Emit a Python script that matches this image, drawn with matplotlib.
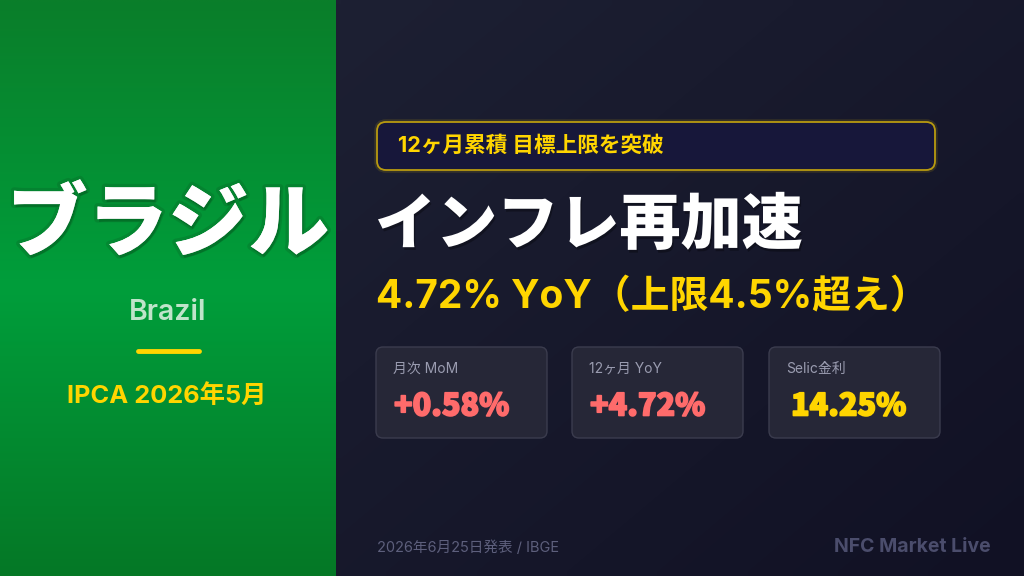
import numpy as np
import matplotlib.pyplot as plt
from matplotlib.patches import FancyBboxPatch
import matplotlib.patheffects as pe

plt.rcParams['font.family'] = ['Noto Sans CJK JP', 'DejaVu Sans']
MIX = ['Inter', 'Noto Sans CJK JP', 'DejaVu Sans']

# content
country_jp = "ブラジル"
country_en = "Brazil"
period = "IPCA 2026年5月"
badge_text = "12ヶ月累積 目標上限を突破"
headline = "インフレ再加速"
subline = "4.72% YoY（上限4.5%超え）"
card_labels = ["月次 MoM", "12ヶ月 YoY", "Selic金利"]
card_values = ["+0.58%", "+4.72%", "14.25%"]
card_colors = ["#ff6b6b", "#ff6b6b", "#ffd500"]
footer_left = "2026年6月25日発表 / IBGE"
footer_right = "NFC Market Live"

W, H = 1024, 576
fig = plt.figure(figsize=(10.24, 5.76), dpi=100)
ax = fig.add_axes([0, 0, 1, 1])
ax.set_xlim(0, W)
ax.set_ylim(H, 0)
ax.axis('off')

# right dark panel gradient
yy, xx = np.mgrid[0:1:64j, 0:1:64j]
t = 0.5 * yy + 0.5 * xx
c0 = np.array([0x1d, 0x20, 0x33]) / 255
c1 = np.array([0x11, 0x11, 0x24]) / 255
dark = c0[None, None, :] * (1 - t[..., None]) + c1[None, None, :] * t[..., None]
ax.imshow(dark, extent=(336, W, H, 0), aspect='auto', zorder=0, interpolation='bilinear')

# left green panel gradient (vertical, bright in middle)
v = np.linspace(0, 1, 128)
g_top = np.array([0x0a, 0x7e, 0x2a]) / 255
g_mid = np.array([0x00, 0x9e, 0x3b]) / 255
g_bot = np.array([0x05, 0x78, 0x26]) / 255
w = np.clip(1 - np.abs(v - 0.5) * 2, 0, 1)[:, None]
col = np.where(v[:, None] < 0.5, g_top * (1 - w) + g_mid * w, g_bot * (1 - w) + g_mid * w)
green = np.repeat(col[:, None, :], 4, axis=1)
ax.imshow(green, extent=(0, 336, H, 0), aspect='auto', zorder=1, interpolation='bilinear')

# left panel texts
ax.text(168, 226, country_jp, color='white', fontsize=58, fontweight='heavy',
        ha='center', va='center', zorder=3,
        path_effects=[pe.withStroke(linewidth=5, foreground='#0a5a22', alpha=0.25),
                      pe.withSimplePatchShadow(offset=(1, -2), shadow_rgbFace='#00330f', alpha=0.25)])
ax.text(168, 312, country_en, color='#bfe4ca', fontsize=20.5, fontweight='semibold',
        family=MIX, ha='center', va='center', zorder=3)
ax.plot([138, 199], [351, 351], color='#ffd500', lw=3.5, solid_capstyle='round', zorder=3)
ax.text(167, 396, period, color='#ffd500', fontsize=18.3, fontweight='bold', family=MIX,
        ha='center', va='center', zorder=3)

# badge
badge = FancyBboxPatch((377, 122), 558, 48, boxstyle="round,pad=0,rounding_size=9",
                       facecolor='#17173a', edgecolor='#b89a10', lw=1.3, zorder=2,
                       path_effects=[pe.withStroke(linewidth=4, foreground='#ffd500', alpha=0.12)])
ax.add_patch(badge)
ax.text(398, 146, badge_text, color='#ffd500', fontsize=15.6, fontweight='bold', family=MIX,
        ha='left', va='center', zorder=3)

# headline
ax.text(375, 226, headline, color='white', fontsize=44, fontweight='heavy',
        ha='left', va='center', zorder=3,
        path_effects=[pe.withSimplePatchShadow(offset=(1, -2), shadow_rgbFace='black', alpha=0.3)])
ax.text(376, 297, subline, color='#ffd500', fontsize=28, fontweight='bold', family=MIX,
        ha='left', va='center', zorder=3)

# stat cards
card_x = [376, 572, 769]
val_dx = [18, 18, 22]
for x0, dx, lab, val, c in zip(card_x, val_dx, card_labels, card_values, card_colors):
    card = FancyBboxPatch((x0, 347), 171, 91, boxstyle="round,pad=0,rounding_size=7",
                          facecolor='#262737', edgecolor='#3b3c4e', lw=1.0, zorder=2)
    ax.add_patch(card)
    ax.text(x0 + 17, 369, lab, color='#9a9cb0', fontsize=10, family=MIX,
            ha='left', va='center', zorder=3)
    ax.text(x0 + dx, 406, val, color=c, fontsize=22, fontweight='heavy',
            ha='left', va='center', zorder=3,
            path_effects=[pe.withStroke(linewidth=1.2, foreground=c)])

# footer
ax.text(377, 548, footer_left, color='#5d5f7c', fontsize=10.5, family=MIX,
        ha='left', va='center', zorder=3)
ax.text(991, 547, footer_right, color='#4b4d6c', fontsize=14, fontweight='bold', family=MIX,
        ha='right', va='center', zorder=3)

fig.savefig('out.png', dpi=100)
